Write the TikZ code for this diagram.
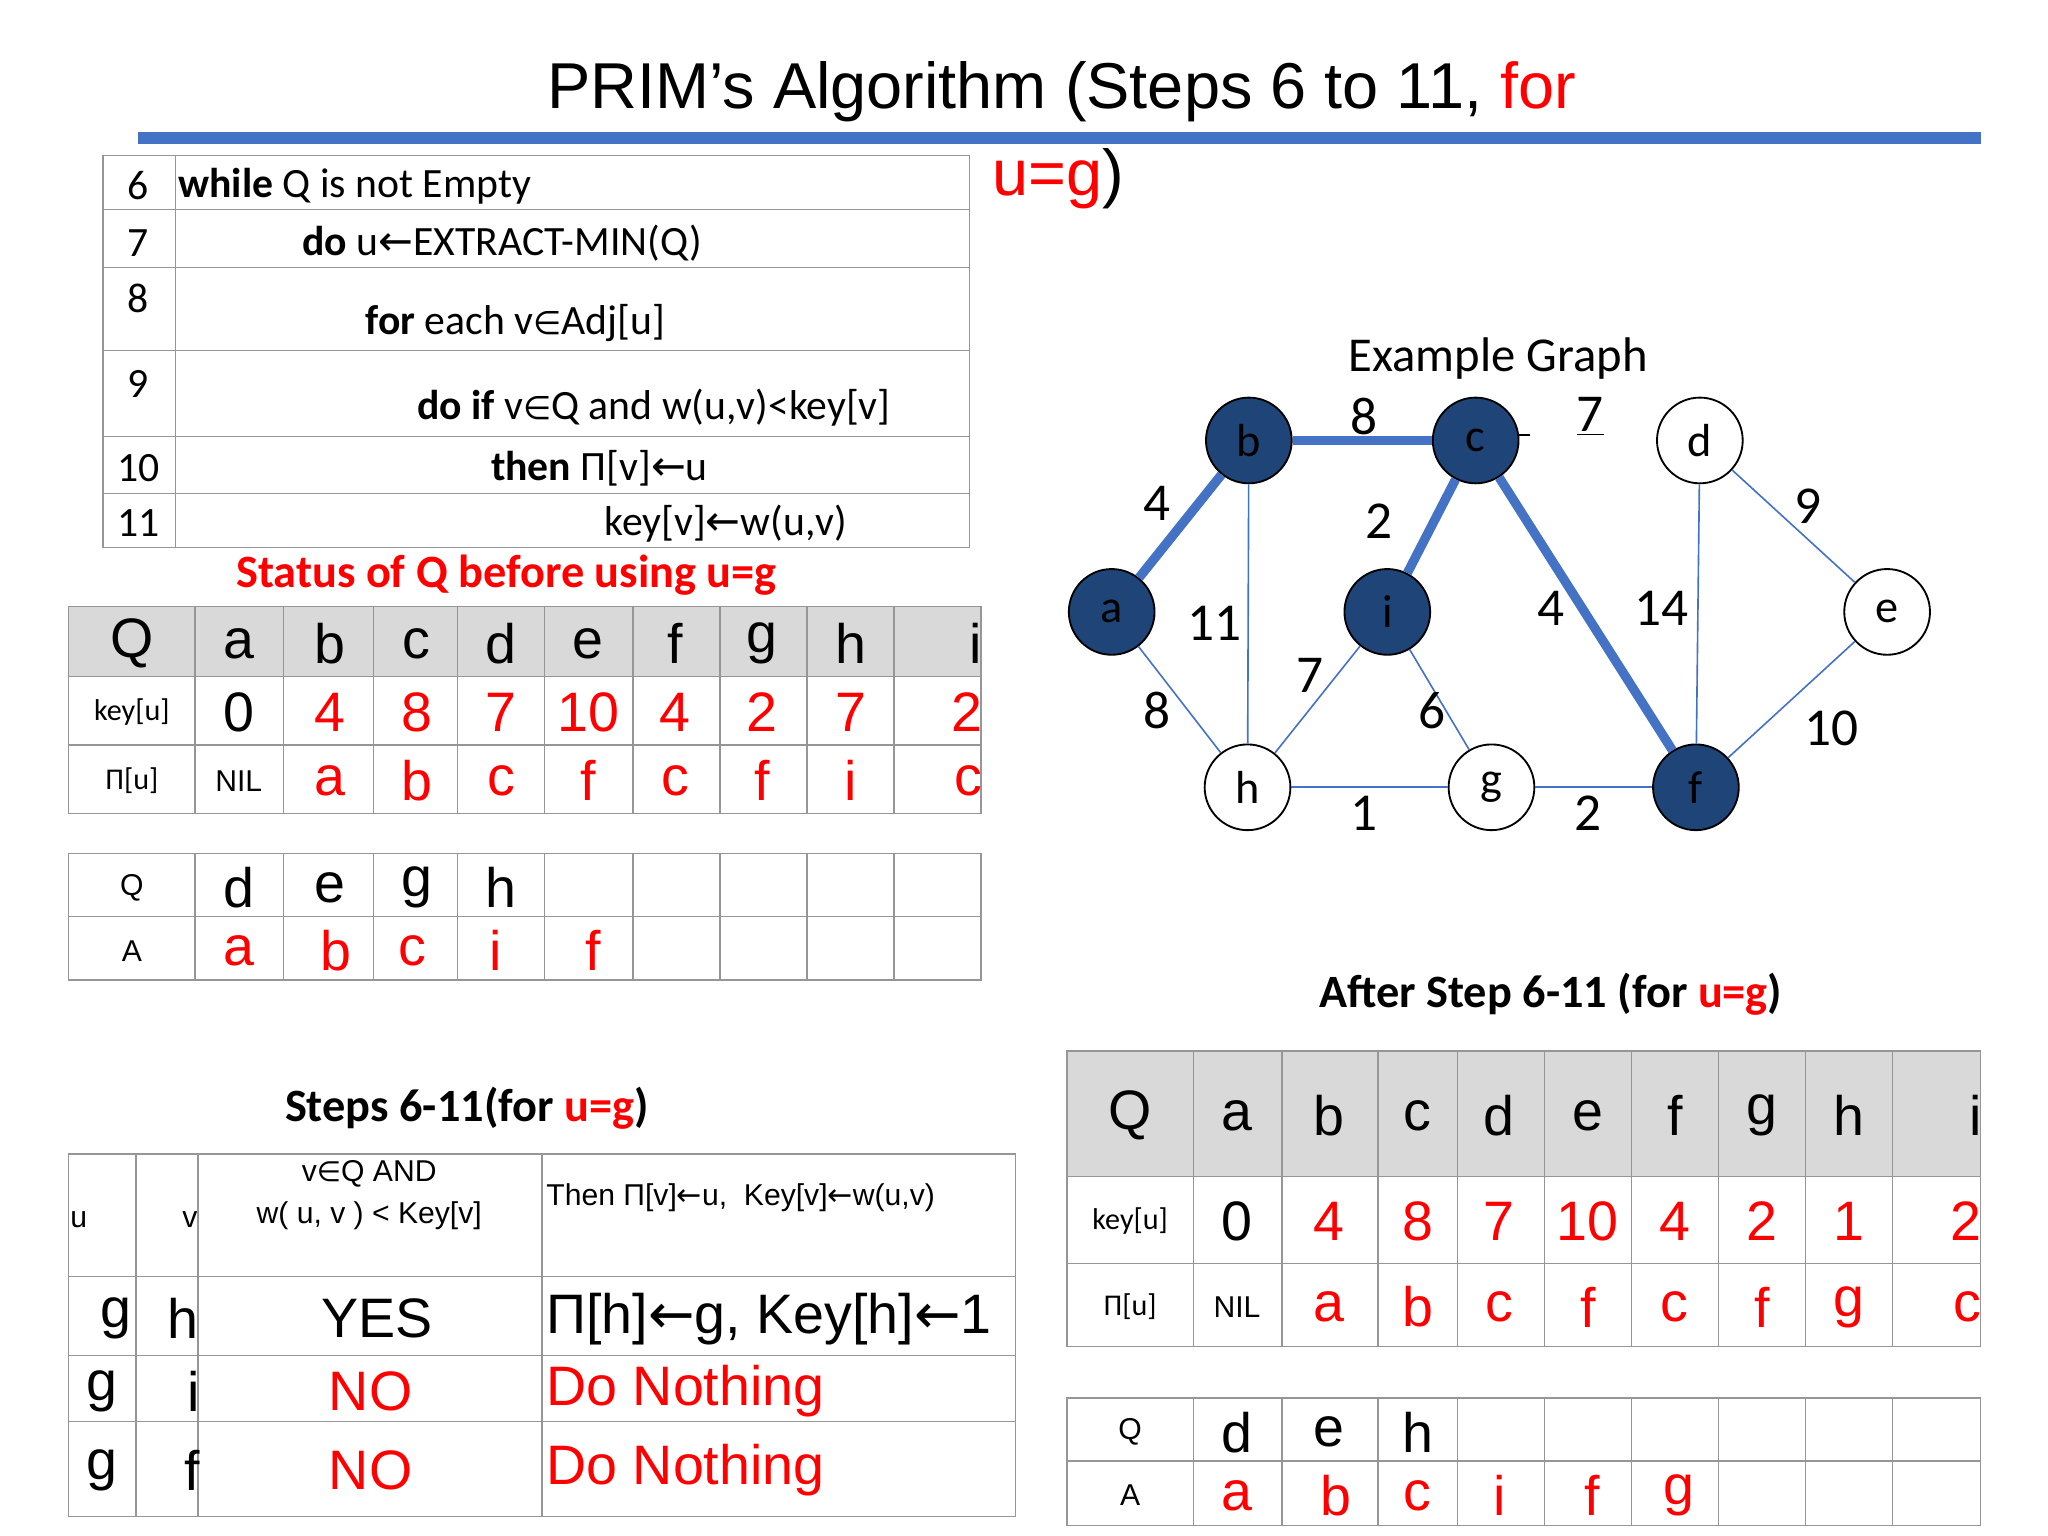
\documentclass[tikz,border=0pt]{standalone}
\usepackage{fontspec}
\setmainfont{Liberation Sans}
\newfontfamily\carl{Carlito}
\newfontfamily\djv{DejaVu Sans}
\definecolor{eblue}{RGB}{68,114,196}
\definecolor{nblue}{RGB}{31,68,120}
\definecolor{hgray}{RGB}{217,217,217}
\definecolor{lgray}{RGB}{150,150,150}
\newcommand\fs[1]{\fontsize{#1}{#1}\selectfont}
\newcommand\IN{{\djv\fs{14}∈}}
\newcommand\LA{{\djv ←}}
\begin{document}
\begin{tikzpicture}[x=0.02cm,y=-0.02cm,
  grid/.style={draw=lgray,line width=0.6pt},
  val/.style={font=\fs{24}},
  red/.style={text=red},
  small/.style={font=\carl\fs{13}},
  gnode/.style={circle,draw=black,line width=0.8pt,minimum size=37pt,inner sep=0pt,font=\carl\fs{20}},
  dark/.style={gnode,fill=nblue},
  light/.style={gnode,fill=white},
  thin/.style={draw=eblue,line width=0.7pt},
  thick/.style={draw=eblue,line width=4pt},
  elab/.style={font=\carl\fs{23}},
  code/.style={font=\carl\fs{18},anchor=west,inner sep=0pt}]
\useasboundingbox (0,0) rectangle (1553,1164);
% title
\node[font=\fs{28},anchor=base] (title) at (805,82) {PRIM’s Algorithm (Steps 6 to 11, \textcolor{red}{for}};
\node[font=\fs{28},anchor=base west,inner sep=0pt] (title2) at (752,148) {\textcolor{red}{u=g})};
\fill[eblue] (105,100) rectangle (1502,109);
% pseudocode table
\draw[grid] (78,118) rectangle (735,415) (133,118) -- (133,415);
\foreach \y in {159,203,266,331,374} \draw[grid] (78,\y) -- (735,\y);
\foreach \n/\y in {6/141,7/184,8/226,9/291,10/355,11/397}
  \node[font=\carl\fs{18}] (ln\n) at (105,\y) {\n};
\node[code] (c6) at (135,141) {\textbf{while} Q is not Empty};
\node[code] (c7) at (229,184) {\textbf{do} u\LA EXTRACT-MIN(Q)};
\node[code] (c8) at (277,245) {\textbf{for} each v\IN Adj[u]};
\node[code] (c9) at (316,309) {\textbf{do if} v\IN Q and w(u,v)<key[v]};
\node[code] (c10) at (372,355) {\textbf{then} П[v]\LA u};
\node[code] (c11) at (458,397) {key[v]\LA w(u,v)};
% table 1
\node[font=\carl\bfseries\fs{20},text=red] (t1title) at (384,436) {Status of Q before using u=g};
\fill[hgray] (52,460) rectangle (744,513);
\draw[grid] (52,460) rectangle (744,617) (52,513)--(744,513) (52,565)--(744,565);
\foreach \x in {148,215,283,347,413,480,546,612,678} \draw[grid] (\x,460) -- (\x,617);
\node[val] (q1) at (100,488) {Q};
\node[small] (k1) at (100,540) {key[u]};
\node[small] (p1) at (100,592) {П[u]};
\foreach \x/\h/\k/\p [count=\i] in {181/a/0/NIL,250/b/4/a,316/c/8/b,380/d/7/c,446/e/10/f,512/f/4/c,578/g/2/f,645/h/7/i}{
  \node[val] (h1\i) at (\x,488) {\h};
  \ifnum\i=1
   \node[val] (v1\i) at (\x,540) {\k};
   \node[font=\fs{13}] (w1\i) at (\x,592) {\p};
  \else
   \node[val,red] (v1\i) at (\x,540) {\k};
   \node[val,red] (w1\i) at (\x,592) {\p};
  \fi}
\node[val,anchor=east,inner sep=0pt] (h19) at (745,488) {i};
\node[val,red,anchor=east,inner sep=0pt] (v19) at (745,540) {2};
\node[val,red,anchor=east,inner sep=0pt] (w19) at (745,592) {c};
% table 2
\draw[grid] (52,647) rectangle (744,743) (52,695)--(744,695);
\foreach \x in {148,215,283,347,413,480,546,612,678} \draw[grid] (\x,647) -- (\x,743);
\node[font=\fs{13}] (q2) at (100,673) {Q};
\node[font=\fs{13}] (a2) at (100,721) {A};
\foreach \x/\t [count=\i] in {181/d,250/e,316/g,380/h} \node[val] (qq\i) at (\x,673) {\t};
\foreach \x/\t [count=\i] in {181/a,255/b,313/c,376/i,450/f} \node[val,red] (aa\i) at (\x,721) {\t};
% graph
\node[font=\carl\fs{21}] (eg) at (1136,272) {Example Graph};
\node[dark] (b) at (947,334) {b};
\node[dark] (c) at (1119,334) {c};
\node[light] (d) at (1289,334) {d};
\node[dark] (a) at (843,464) {a};
\node[dark] (i) at (1052,464) {i};
\node[light] (e) at (1431,464) {e};
\node[light] (h) at (946,597) {h};
\node[light] (g) at (1131,597) {g};
\node[dark] (f) at (1286,597) {f};
\draw[thick] (a) -- (b); \draw[thick] (b) -- (c); \draw[thick] (c) -- (i); \draw[thick] (c) -- (f);
\draw[thin] (b) -- (h); \draw[thin] (a) -- (h); \draw[thin] (i) -- (h); \draw[thin] (i) -- (g);
\draw[thin] (h) -- (g); \draw[thin] (g) -- (f); \draw[thin] (d) -- (f); \draw[thin] (d) -- (e); \draw[thin] (e) -- (f);
\coordinate (dsh) at (1160,330);
\coordinate (dsh0) at (1152,330);
\draw[line width=0.6pt] (dsh0) -- (dsh);
\node[elab] (l8) at (1034,316) {8};
\node[elab] (l7) at (1206,316) {\underline{7}};
\node[elab] (l4) at (877,382) {4};
\node[elab] (l2) at (1046,395) {2};
\node[elab] (l9) at (1371,384) {9};
\node[elab] (l11) at (921,473) {11};
\node[elab] (l4b) at (1176,461) {4};
\node[elab] (l14) at (1260,461) {14};
\node[elab] (l7b) at (993,512) {7};
\node[elab] (l8b) at (877,539) {8};
\node[elab] (l6) at (1086,539) {6};
\node[elab] (l10) at (1389,552) {10};
\node[elab] (l1) at (1034,617) {1};
\node[elab] (l2b) at (1204,617) {2};
% steps table
\node[font=\carl\bfseries\fs{20}] (sttitle) at (354,840) {Steps 6-11(for \textcolor{red}{u=g})};
\draw[grid] (52,875) rectangle (770,1150);
\foreach \y in {968,1028,1078} \draw[grid] (52,\y) -- (770,\y);
\foreach \x in {103,150,411} \draw[grid] (\x,875) -- (\x,1150);
\node[font=\fs{13},anchor=west,inner sep=0pt] (su) at (53,925) {u};
\node[font=\fs{13},anchor=east,inner sep=0pt] (sv) at (150,925) {v};
\node[font=\fs{13},align=center] (scond) at (280,906) {v{\djv\fs{12}∈}Q AND\\[5pt] w( u, v ) < Key[v]};
\node[font=\fs{13},anchor=west,inner sep=0pt] (sthen) at (414,908) {Then П[v]\LA u,\ \ Key[v]\LA w(u,v)};
\node[val] (r1u) at (88,1000) {g}; \node[val] (r1v) at (139,1000) {h};
\node[val] (r1c) at (286,1000) {YES};
\node[val,anchor=west,inner sep=0pt] (r1t) at (414,1000) {П[h]\LA g, Key[h]\LA 1};
\node[val] (r2u) at (77,1055) {g}; \node[val] (r2v) at (147,1055) {i};
\node[val,red] (r2c) at (281,1055) {NO};
\node[val,red,anchor=west,inner sep=0pt] (r2t) at (414,1055) {Do Nothing};
\node[val] (r3u) at (77,1115) {g}; \node[val] (r3v) at (146,1115) {f};
\node[val,red] (r3c) at (281,1115) {NO};
\node[val,red,anchor=west,inner sep=0pt] (r3t) at (414,1115) {Do Nothing};
% after table
\node[font=\carl\bfseries\fs{20}] (attitle) at (1176,754) {After Step 6-11 (for \textcolor{red}{u=g})};
\fill[hgray] (809,797) rectangle (1502,892);
\draw[grid] (809,797) rectangle (1502,1021) (809,892)--(1502,892) (809,958)--(1502,958);
\foreach \x in {905,972,1045,1105,1171,1237,1303,1369,1435} \draw[grid] (\x,797) -- (\x,1021);
\node[val] (q3) at (857,846) {Q};
\node[small] (k3) at (857,926) {key[u]};
\node[small] (p3) at (857,991) {П[u]};
\foreach \x/\h/\k/\p [count=\i] in {938/a/0/NIL,1008/b/4/a,1075/c/8/b,1137/d/7/c,1204/e/10/f,1270/f/4/c,1336/g/2/f,1402/h/1/g}{
  \node[val] (h3\i) at (\x,846) {\h};
  \ifnum\i=1
   \node[val] (v3\i) at (\x,926) {\k};
   \node[font=\fs{13}] (w3\i) at (\x,991) {\p};
  \else
   \node[val,red] (v3\i) at (\x,926) {\k};
   \node[val,red] (w3\i) at (\x,991) {\p};
  \fi}
\node[val,anchor=east,inner sep=0pt] (h39) at (1503,846) {i};
\node[val,red,anchor=east,inner sep=0pt] (v39) at (1503,926) {2};
\node[val,red,anchor=east,inner sep=0pt] (w39) at (1503,991) {c};
\draw[grid] (809,1060) rectangle (1502,1157) (809,1108)--(1502,1108);
\foreach \x in {905,972,1045,1105,1171,1237,1303,1369,1435} \draw[grid] (\x,1060) -- (\x,1157);
\node[font=\fs{13}] (q4) at (857,1086) {Q};
\node[font=\fs{13}] (a4) at (857,1134) {A};
\foreach \x/\t [count=\i] in {938/d,1008/e,1075/h} \node[val] (qb\i) at (\x,1086) {\t};
\foreach \x/\t [count=\i] in {938/a,1013/b,1075/c,1137/i,1207/f,1273/g} \node[val,red] (ab\i) at (\x,1134) {\t};
\end{tikzpicture}
\end{document}
